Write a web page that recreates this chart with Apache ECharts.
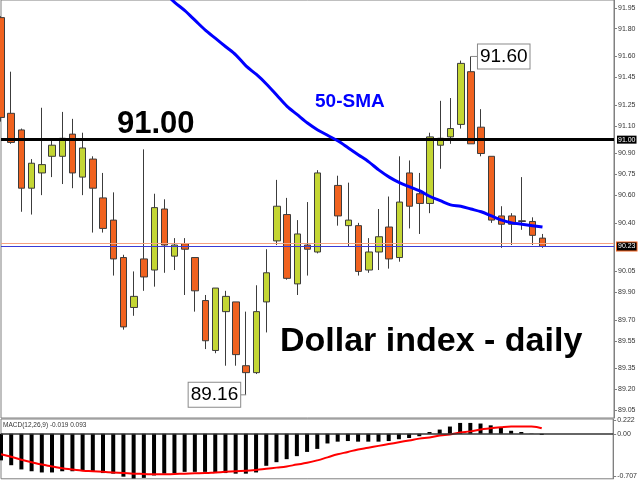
<!DOCTYPE html>
<html>
<head>
<meta charset="utf-8">
<script src="https://cdn.jsdelivr.net/npm/echarts@6/dist/echarts.min.js"></script>
<style>
  html, body { margin: 0; padding: 0; background: #fff; }
  #chart { width: 640px; height: 480px; }
</style>
</head>
<body>
<div id="chart"></div>
<script>
// Daily US Dollar index bars (one per trading day, oldest first)
const opens  = [91.88, 91.19, 91.07, 90.65, 90.76, 90.88, 90.88, 91.04, 90.73, 90.86,
                90.58, 90.42, 90.15, 89.79, 90.14, 90.06, 90.50, 90.16, 90.25, 90.15,
                89.84, 89.48, 89.76, 89.83, 89.37, 89.32, 89.83, 90.27, 90.46, 89.96,
                90.24, 90.19, null,  90.67, 90.38, 90.38, 90.06, 90.19, 90.37, 90.15,
                90.76, 90.61, 90.54, 90.96, 91.02, 91.11, 91.49, 91.09, 90.88, 90.45,
                90.45, 90.415, 90.41, 90.29];
const closes = [91.16, 90.98, 90.65, 90.83, 90.82, 90.96, 91.01, 90.76, 90.94, 90.65,
                90.36, 90.14, 89.65, 89.87, 90.01, 90.51, 90.24, 90.24, 90.21, 89.91,
                89.55, 89.93, 89.87, 89.45, 89.32, 89.76, 90.04, 90.52, 90.00, 90.32,
                90.21, 90.76, null,  90.45, 90.42, 90.05, 90.19, 90.30, 90.14, 90.55,
                90.52, 90.54, 91.02, 91.01, 91.08, 91.55, 90.97, 90.90, 90.42, 90.39,
                90.39, 90.41, 90.31, 90.23];
const lows   = [91.13, 90.97, 90.48, 90.46, 90.60, 90.73, 90.68, 90.65, 90.60, 90.33,
                90.33, 90.02, 89.63, 89.73, 89.91, 89.94, 90.04, 90.06, 89.88, 89.76,
                89.49, 89.46, 89.37, 89.37, 89.16, 89.31, 89.61, 90.24, 89.99, 89.88,
                90.02, 90.18, null,  90.38, 90.23, 90.02, 90.04, 90.06, 90.07, 90.12,
                90.36, 90.32, 90.47, 90.79, 90.97, 91.08, 90.97, 90.88, 90.40, 90.22,
                90.24, 90.35, 90.24, 90.22];
const highs  = [91.89, 91.49, 91.08, 90.86, 91.23, 91.01, 91.20, 91.15, 91.05, 90.88,
                90.76, 90.62, 90.17, 90.05, 90.93, 90.61, 90.57, 90.29, 90.29, 90.15,
                89.88, 89.93, 89.91, 89.83, 89.76, 89.95, 90.21, 90.71, 90.58, 90.42,
                90.55, 90.78, null,  90.74, 90.69, 90.40, 90.29, 90.50, 90.59, 90.88,
                90.85, 90.76, 91.05, 91.28, 91.30, 91.57, 91.60, 91.22, 90.88, 90.52,
                90.47, 90.73, 90.44, 90.32];

// 50-day simple moving average of the close
const sma50 = [null, null, null, null, null, null, null, null, null, null,
               null, null, null, null, null, 92.13, 92.06, 91.99, 91.93, 91.86,
               91.79, 91.73, 91.67, 91.61, 91.53, 91.47, 91.40, 91.32, 91.24, 91.18,
               91.12, 91.07, 91.03, 90.99, 90.94, 90.89, 90.84, 90.78, 90.73, 90.69,
               90.66, 90.63, 90.59, 90.56, 90.53, 90.52, 90.50, 90.48, 90.45, 90.42,
               90.40, 90.39, 90.38, 90.37];

// MACD(12,26,9): main line (histogram) and signal line
const macdMain = [-0.44, -0.52, -0.59, -0.62, -0.64, -0.64, -0.62, -0.62, -0.61, -0.63,
                  -0.65, -0.66, -0.71, -0.74, -0.73, -0.69, -0.66, -0.65, -0.63, -0.63,
                  -0.63, -0.65, -0.65, -0.66, -0.66, -0.64, -0.53, -0.47, -0.42, -0.37,
                  -0.30, -0.25, -0.16, -0.13, -0.12, -0.13, -0.13, -0.13, -0.12, -0.09,
                  -0.07, -0.04, 0.03, 0.07, 0.12, 0.18, 0.18, 0.17, 0.14, 0.10,
                  0.05, 0.03, 0.005, -0.019];
const macdSignal = [-0.34, -0.38, -0.43, -0.47, -0.51, -0.54, -0.57, -0.59, -0.61, -0.62,
                    -0.63, -0.64, -0.65, -0.66, -0.665, -0.67, -0.67, -0.665, -0.66, -0.655,
                    -0.65, -0.64, -0.63, -0.62, -0.61, -0.60, -0.58, -0.56, -0.54, -0.51,
                    -0.48, -0.44, -0.39, -0.34, -0.30, -0.26, -0.23, -0.20, -0.17, -0.14,
                    -0.11, -0.08, -0.06, -0.03, -0.01, 0.02, 0.04, 0.07, 0.09, 0.11,
                    0.12, 0.12, 0.12, 0.093];

// Price scale labels and levels
const priceTicks = [91.95, 91.80, 91.60, 91.45, 91.25, 91.10, 90.90, 90.75, 90.60, 90.40,
                    90.05, 89.90, 89.70, 89.55, 89.35, 89.20, 89.05];
const macdTicks = [0.222, 0, -0.707];
const resistance = 91.00;
const lastPrice = 90.23;
const askPrice = 90.245;

// time axis holds a few empty days to the right of the last bar
const SLOTS = 61;
const days = Array.from({ length: SLOTS }, (_, i) => 'D' + (i + 1));
const pick = (arr, i) => (i < arr.length && arr[i] != null) ? arr[i] : '-';

const candleData = days.map((_, i) =>
  (i < opens.length && opens[i] != null)
    ? [opens[i], closes[i], lows[i], highs[i]]
    : ['-', '-', '-', '-']);

const FONT = 'Liberation Sans, Arial, sans-serif';
const AXIS_GRAY = '#808080';

const chart = echarts.init(document.getElementById('chart'), null, { renderer: 'canvas' });

const hiddenCat = (gridIndex) => ({
  type: 'category', gridIndex, data: days, boundaryGap: false,
  axisLine: { show: false }, axisTick: { show: false },
  axisLabel: { show: false }, splitLine: { show: false }
});

const option = {
  animation: false,
  backgroundColor: '#ffffff',
  grid: [
    { left: 1, right: 26, top: -1, height: 419, show: true,
      borderColor: AXIS_GRAY, borderWidth: 1 },
    { left: 1, right: 26, top: 419, height: 61, show: true,
      borderColor: AXIS_GRAY, borderWidth: 1 }
  ],
  xAxis: [hiddenCat(0), hiddenCat(1)],
  yAxis: [
    {
      type: 'value', gridIndex: 0, position: 'right',
      min: 88.993, max: 92.007, scale: true,
      axisLine: { show: true, lineStyle: { color: AXIS_GRAY } },
      axisTick: { show: true, customValues: priceTicks, length: 3, inside: false,
                  lineStyle: { color: AXIS_GRAY } },
      axisLabel: { customValues: priceTicks, formatter: v => v.toFixed(2),
                   fontSize: 7, fontFamily: FONT, color: '#333', margin: 4 },
      splitLine: { show: false }
    },
    {
      type: 'value', gridIndex: 1, position: 'right',
      min: -0.745, max: 0.245,
      axisLine: { show: true, lineStyle: { color: AXIS_GRAY } },
      axisTick: { show: true, customValues: macdTicks, length: 3,
                  lineStyle: { color: AXIS_GRAY } },
      axisLabel: { customValues: macdTicks,
                   formatter: v => (v === 0 ? '0.00' : v.toFixed(3)),
                   fontSize: 7, fontFamily: FONT, color: '#333', margin: 4 },
      splitLine: { show: false }
    }
  ],
  series: [
    {
      name: 'USDX', type: 'candlestick', xAxisIndex: 0, yAxisIndex: 0,
      data: candleData, barWidth: 7, clip: true,
      itemStyle: {
        color: '#c4d633', color0: '#f0621f',
        borderColor: '#3c3c3c', borderColor0: '#3c3c3c', borderWidth: 1
      },
      markLine: {
        silent: true, symbol: ['none', 'none'], animation: false,
        data: [
          { yAxis: askPrice,
            lineStyle: { color: '#f5a282', width: 1, type: 'solid' },
            label: { show: false } },
          { yAxis: lastPrice,
            lineStyle: { color: '#3a3ad6', width: 1, type: 'solid' },
            label: { show: true, position: 'end', distance: 3,
                     formatter: lastPrice.toFixed(2), color: '#fff',
                     backgroundColor: '#000', borderColor: '#f0621f', borderWidth: 1,
                     fontSize: 7, fontFamily: FONT, padding: [1, 1, 0, 1] } },
          { yAxis: resistance,
            lineStyle: { color: '#000', width: 3, type: 'solid' },
            label: { show: true, position: 'end', distance: 3,
                     formatter: resistance.toFixed(2), color: '#fff',
                     backgroundColor: '#000', fontSize: 7, fontFamily: FONT,
                     padding: [1, 1, 0, 1] } }
        ]
      }
    },
    {
      name: '50-SMA', type: 'line', xAxisIndex: 0, yAxisIndex: 0, z: 5,
      data: days.map((_, i) => pick(sma50, i)),
      showSymbol: false, smooth: 0.3, connectNulls: false, clip: true,
      lineStyle: { color: '#0000ff', width: 3 }
    },
    {
      name: 'MACD', type: 'bar', xAxisIndex: 1, yAxisIndex: 1,
      data: days.map((_, i) => pick(macdMain, i)),
      barWidth: 4, itemStyle: { color: '#000' },
      markLine: {
        silent: true, symbol: ['none', 'none'], animation: false,
        data: [{ yAxis: 0, lineStyle: { color: '#333', width: 1.5, type: 'solid' },
                 label: { show: false } }]
      }
    },
    {
      name: 'Signal', type: 'line', xAxisIndex: 1, yAxisIndex: 1,
      data: days.map((_, i) => pick(macdSignal, i)),
      showSymbol: false, smooth: true,
      lineStyle: { color: '#ff0000', width: 2 }
    }
  ]
};

chart.setOption(option);

// Callouts for the swing high / swing low, placed from the axis scales
const hiIdx = 46, loIdx = 24;
const [hx, hy] = chart.convertToPixel({ xAxisIndex: 0, yAxisIndex: 0 }, [hiIdx, highs[hiIdx]]);
const [lx, ly] = chart.convertToPixel({ xAxisIndex: 0, yAxisIndex: 0 }, [loIdx, lows[loIdx]]);

const calloutText = (x, y, align, value) => ({
  type: 'text', x, y, z: 20,
  style: {
    text: value.toFixed(2), align, verticalAlign: 'middle',
    fontSize: 19, fontFamily: FONT, fill: '#000',
    backgroundColor: '#fff', borderColor: '#8a8a8a', borderWidth: 1,
    padding: [3, 2, 2, 2]
  }
});

chart.setOption({
  graphic: [
    { type: 'text', x: 117, y: 124, z: 20,
      style: { text: '91.00', fontSize: 31, fontWeight: 'bold', fontFamily: FONT,
               fill: '#000', align: 'left', verticalAlign: 'middle' } },
    { type: 'text', x: 315, y: 102, z: 20,
      style: { text: '50-SMA', fontSize: 19, fontWeight: 'bold', fontFamily: FONT,
               fill: '#0000ff', align: 'left', verticalAlign: 'middle' } },
    { type: 'text', x: 280, y: 342, z: 20,
      style: { text: 'Dollar index - daily', fontSize: 34, fontWeight: 'bold',
               fontFamily: FONT, fill: '#000', align: 'left', verticalAlign: 'middle' } },
    { type: 'text', x: 3, y: 425, z: 20,
      style: { text: 'MACD(12,26,9) -0.019 0.093', fontSize: 6.5, fontFamily: FONT,
               fill: '#333', align: 'left', verticalAlign: 'middle' } },
    { type: 'line', z: 19, shape: { x1: hx, y1: hy, x2: hx + 7, y2: hy },
      style: { stroke: '#8a8a8a', lineWidth: 1 } },
    calloutText(hx + 7, hy, 'left', highs[hiIdx]),
    { type: 'line', z: 19, shape: { x1: lx - 6, y1: ly, x2: lx, y2: ly },
      style: { stroke: '#8a8a8a', lineWidth: 1 } },
    calloutText(lx - 6, ly, 'right', lows[loIdx])
  ]
});
</script>
</body>
</html>
